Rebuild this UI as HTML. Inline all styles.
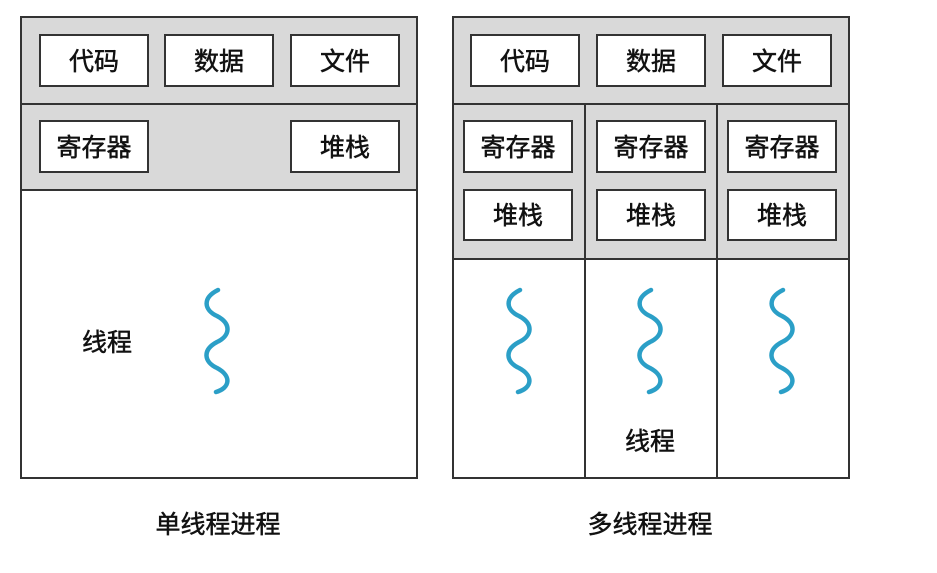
<!DOCTYPE html>
<html><head><meta charset="utf-8"><style>
html,body{margin:0;padding:0;background:#fff;}
text{font-family:"Liberation Sans","Noto Sans CJK SC",sans-serif;fill:#111;stroke:#111;stroke-width:0.5;}
</style></head><body>
<svg width="937" height="568" viewBox="0 0 937 568" xmlns="http://www.w3.org/2000/svg">
<defs>
<path id="w" d="M1,0 C-15,8 -13,20 0,26 C15,34 13,46 0,52 C-15,60 -13,72 0,78 C15,86 13,98 -1,102" fill="none" stroke="#2b9fc7" stroke-width="4.5" stroke-linecap="round"/>
</defs>
<g stroke="#333" stroke-width="2">
<rect x="21" y="17" width="396" height="461" fill="#fff"/>
<rect x="21" y="17" width="396" height="173" fill="#d9d9d9"/>
<line x1="21" y1="104" x2="417" y2="104"/>
<rect x="40" y="35" width="108" height="51" fill="#fff"/>
<rect x="165" y="35" width="108" height="51" fill="#fff"/>
<rect x="291" y="35" width="108" height="51" fill="#fff"/>
<rect x="40" y="121" width="108" height="51" fill="#fff"/>
<rect x="291" y="121" width="108" height="51" fill="#fff"/>
<rect x="453" y="17" width="396" height="461" fill="#fff"/>
<rect x="453" y="17" width="396" height="242" fill="#d9d9d9"/>
<line x1="453" y1="104" x2="849" y2="104"/>
<line x1="585" y1="104" x2="585" y2="478"/>
<line x1="717" y1="104" x2="717" y2="478"/>
<rect x="471" y="35" width="108" height="51" fill="#fff"/>
<rect x="597" y="35" width="108" height="51" fill="#fff"/>
<rect x="723" y="35" width="108" height="51" fill="#fff"/>
<rect x="464" y="121" width="108" height="51" fill="#fff"/>
<rect x="597" y="121" width="108" height="51" fill="#fff"/>
<rect x="728" y="121" width="108" height="51" fill="#fff"/>
<rect x="464" y="190" width="108" height="50" fill="#fff"/>
<rect x="597" y="190" width="108" height="50" fill="#fff"/>
<rect x="728" y="190" width="108" height="50" fill="#fff"/>
</g>
<use href="#w" x="217" y="290"/>
<use href="#w" x="519" y="290"/>
<use href="#w" x="650" y="290"/>
<use href="#w" x="782" y="290"/>
<g font-size="25" text-anchor="middle">
<text x="94" y="70">代码</text>
<text x="219" y="70">数据</text>
<text x="345" y="70">文件</text>
<text x="94" y="156">寄存器</text>
<text x="345" y="156">堆栈</text>
<text x="525" y="70">代码</text>
<text x="651" y="70">数据</text>
<text x="777" y="70">文件</text>
<text x="518" y="156">寄存器</text>
<text x="651" y="156">寄存器</text>
<text x="782" y="156">寄存器</text>
<text x="518" y="224">堆栈</text>
<text x="651" y="224">堆栈</text>
<text x="782" y="224">堆栈</text>
<text x="107" y="351">线程</text>
<text x="650" y="450">线程</text>
<text x="218" y="533">单线程进程</text>
<text x="650" y="533">多线程进程</text>
</g>
</svg>
</body></html>
